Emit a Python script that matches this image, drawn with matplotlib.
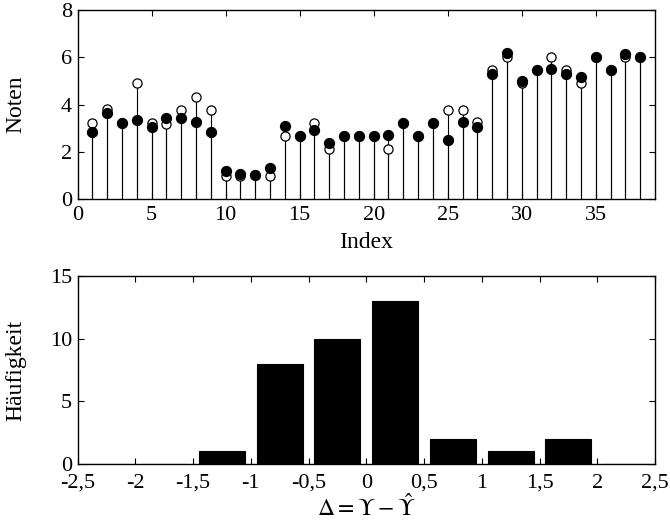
import matplotlib
matplotlib.use("Agg")
import matplotlib.pyplot as plt
import numpy as np

plt.rcParams['font.family'] = ['Liberation Serif', 'DejaVu Serif']
plt.rcParams['mathtext.fontset'] = 'stix'

index = list(range(1, 39))
predicted = [2.83, 3.64, 3.21, 3.36, 3.03, 3.44, 3.41, 3.26, 2.83, 1.20,
             1.06, 1.02, 1.30, 3.07, 2.65, 2.93, 2.37, 2.66, 2.66, 2.66,
             2.72, 3.21, 2.66, 3.21, 2.51, 3.24, 3.03, 5.28, 6.19, 4.99,
             5.44, 5.50, 5.30, 5.16, 6.01, 5.44, 6.13, 6.01]
actual = [3.23, 3.80, 3.21, 4.90, 3.23, 3.19, 3.78, 4.32, 3.78, 0.99,
          0.99, 1.00, 0.99, 2.65, 2.65, 3.23, 2.11, 2.66, 2.66, 2.66,
          2.11, 3.21, 2.66, 3.21, 3.78, 3.78, 3.24, 5.48, 5.99, 4.89,
          5.44, 6.01, 5.48, 4.89, 6.01, 5.44, 5.99, 6.01]

bin_centers = [-2.25, -1.75, -1.25, -0.75, -0.25, 0.25, 0.75, 1.25, 1.75, 2.25]
counts = [0, 0, 1, 8, 10, 13, 2, 1, 2, 0]
hist_ticks = [-2.5, -2, -1.5, -1, -0.5, 0, 0.5, 1, 1.5, 2, 2.5]
hist_ticklabels = ['-2,5', '-2', '-1,5', '-1', '-0,5', '0', '0,5', '1', '1,5', '2', '2,5']

W, H = 670, 523
fig = plt.figure(figsize=(W / 100, H / 100), dpi=100)

def pos(l, t, r, b):
    return [l / W, 1 - b / H, (r - l) / W, (b - t) / H]

fs_tick = 16
fs_lab = 17
ax1 = fig.add_axes(pos(77.5, 10, 655, 199))
ax1.vlines(index, 0, actual, colors='black', linewidth=0.8)
ax1.vlines(index, 0, predicted, colors='black', linewidth=0.8)
ax1.plot(index, actual, 'o', markersize=6.6, markerfacecolor='white',
         markeredgecolor='black', markeredgewidth=0.9, linestyle='none')
ax1.plot(index, predicted, 'o', markersize=7.2, markerfacecolor='black',
         markeredgecolor='black', markeredgewidth=0.9, linestyle='none')
ax1.set_xlim(0, 39)
ax1.set_ylim(0, 8)
ax1.set_xticks([0, 5, 10, 15, 20, 25, 30, 35])
ax1.set_yticks([0, 2, 4, 6, 8])
ax1.set_xlabel('Index', fontsize=fs_lab)
ax1.set_ylabel('Noten', fontsize=fs_lab)
ax1.xaxis.set_label_coords(0.5, -(242 - 199) / 189)
ax1.xaxis.label.set_va('center')
ax1.yaxis.set_label_coords((16 - 77.5) / 577.5, 0.5)
ax1.yaxis.label.set_va('center')

ax2 = fig.add_axes(pos(77.5, 276, 655, 464))
ax2.bar(bin_centers, counts, width=0.4, color='black', edgecolor='black', linewidth=0.8)
ax2.set_xlim(-2.5, 2.5)
ax2.set_ylim(0, 15)
ax2.set_xticks(hist_ticks)
ax2.set_xticklabels(hist_ticklabels)
ax2.set_yticks([0, 5, 10, 15])
ax2.set_xlabel(r'$\Delta = \Upsilon - \hat{\Upsilon}$', fontsize=fs_lab)
ax2.set_ylabel('Häufigkeit', fontsize=fs_lab)
ax2.xaxis.set_label_coords(0.5, -(508 - 464) / 188)
ax2.xaxis.label.set_va('center')
ax2.yaxis.set_label_coords((16 - 77.5) / 577.5, 0.5)
ax2.yaxis.label.set_va('center')

for ax in (ax1, ax2):
    ax.tick_params(direction='in', top=True, right=True, length=4, width=0.8,
                   labelsize=fs_tick)
    ax.tick_params(axis='y', pad=4)
    for s in ax.spines.values():
        s.set_linewidth(1.0)
ax1.tick_params(axis='x', pad=5)
ax2.tick_params(axis='x', pad=7)

fig.savefig('out.png', dpi=100)
